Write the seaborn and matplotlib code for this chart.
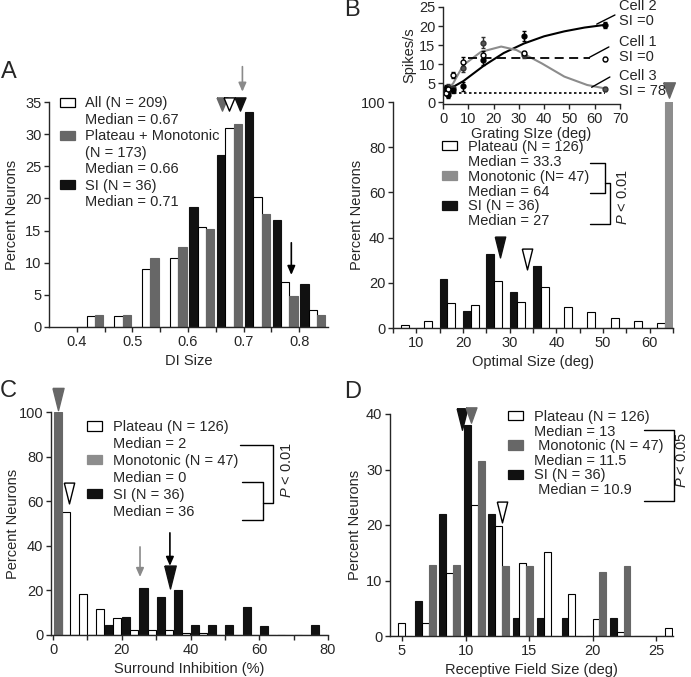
import pandas as pd
import seaborn as sns
import matplotlib.pyplot as plt
from matplotlib.patches import Patch

# ---------------- data ----------------
# Panel A: DI size distribution (percent of neurons per bin)
a_bins = [0.425, 0.475, 0.525, 0.575, 0.625, 0.675, 0.725, 0.775, 0.825]
a_si = [0, 0, 0, 0, 18.6, 26.7, 33.4, 16.7, 6.7]
a_all = [1.7, 1.7, 9.1, 10.7, 15.5, 31.0, 20.3, 7.0, 2.7]
a_pm = [1.9, 1.9, 10.8, 12.5, 15.2, 31.6, 17.6, 4.8, 1.9]
a_median_marks = [0.661, 0.673, 0.694]  # gray, white, black triangles

# Panel B: optimal size
b_bins = [7.5, 12.5, 17.5, 22.5, 27.5, 32.5, 37.5, 42.5, 47.5, 52.5, 57.5, 62.5]
b_si = [0, 0, 21.7, 7.7, 32.7, 15.8, 27.3, 0, 0, 0, 0, 0]
b_plateau = [1.2, 3.2, 10.9, 10.2, 20.6, 11.4, 18.0, 9.1, 7.2, 4.6, 3.1, 2.1]
b_mono = [0, 0, 0, 0, 0, 0, 0, 0, 0, 0, 0, 100]
b_median_marks = [28.0, 33.7, 64.1]  # SI, plateau, monotonic

# Panel B inset: example size tuning curves
grating = [1, 2, 4, 8, 16, 32, 64]
cell1_resp = [2.5, 3.4, 7.1, 10.6, 12.4, 12.9, 11.3]
cell2_resp = [3.8, 1.8, 3.3, 4.2, 11.1, 17.4, 20.3]
cell3_resp = [2.8, 4.0, 3.6, 8.9, 15.6, 12.3, 3.4]
cell1_err = [0.6, 0.6, 0.8, 1.2, 1.0, 0.6, 0.5]
cell2_err = [0.8, 0.8, 0.8, 1.2, 1.3, 1.4, 0.8]
cell3_err = [0.7, 0.7, 0.7, 1.0, 1.5, 0.8, 0.6]
cell2_fit_x = [1, 4, 8, 16, 24, 32, 40, 48, 56, 64]
cell2_fit_y = [2.5, 4.0, 5.5, 9.5, 12.9, 15.4, 17.3, 18.6, 19.6, 20.3]
cell3_fit_x = [1, 2, 4, 8, 15, 23, 29, 39, 48, 57, 64]
cell3_fit_y = [3.0, 3.5, 4.9, 9.7, 13.2, 14.6, 13.7, 10.2, 6.7, 4.5, 3.6]
cell1_fit_x = [10, 58]
cell1_fit_y = [11.7, 11.7]
baseline_x = [0.5, 64]
baseline_y = [2.5, 2.5]

# Panel C: surround inhibition
c_bins = [2.5, 7.5, 12.5, 17.5, 22.5, 27.5, 32.5, 37.5, 42.5, 47.5, 52.5, 57.5, 62.5, 67.5, 72.5, 77.5]
c_si = [0, 0, 0, 4.5, 7.9, 20.9, 16.9, 20.2, 4.5, 4.5, 4.5, 12.7, 4.1, 0, 0, 4.5]
c_plateau = [55.0, 18.4, 11.5, 7.5, 2.2, 2.2, 2.2, 0.8, 0.8, 0, 0, 0, 0, 0, 0, 0]
c_mono = [100, 0, 0, 0, 0, 0, 0, 0, 0, 0, 0, 0, 0, 0, 0, 0]

# Panel D: receptive field size
d_bins = [4.95, 6.85, 8.75, 10.7, 12.6, 14.5, 16.45, 18.35, 20.25, 22.15, 24.05, 25.95]
d_si = [0, 6.3, 22.0, 38.0, 22.0, 3.2, 3.2, 3.2, 0, 3.2, 0, 0]
d_plateau = [2.3, 2.3, 11.4, 23.6, 19.9, 13.1, 15.2, 7.6, 3.0, 0.8, 0, 1.4]
d_mono = [0, 12.8, 12.8, 31.6, 12.6, 12.6, 0, 0, 11.5, 12.6, 0, 0]
d_median_marks = [9.7, 10.45, 12.85]  # SI, monotonic, plateau

BLACK = "#111111"
WHITE = "white"
GRAY = "#676767"
LIGHT = "#8d8d8d"

sns.set_theme(style="ticks")
plt.rcParams["font.family"] = ["Liberation Sans", "DejaVu Sans"]
plt.rcParams.update({
    "font.size": 10.5,
    "axes.linewidth": 1.0,
    "xtick.major.size": 3.5,
    "ytick.major.size": 3.5,
    "xtick.minor.size": 3.5,
    "xtick.major.width": 1.0,
    "ytick.major.width": 1.0,
    "xtick.minor.width": 1.0,
    "xtick.labelsize": 10.5,
    "ytick.labelsize": 10.5,
    "axes.labelsize": 10.5,
    "mathtext.fontset": "custom",
    "mathtext.it": "Liberation Sans:italic",
    "mathtext.rm": "Liberation Sans",
})

W, H = 691, 677
fig = plt.figure(figsize=(W / 100, H / 100), dpi=100)


def px_axes(left, top, right, bottom):
    return fig.add_axes([left / W, 1 - bottom / H, (right - left) / W, (bottom - top) / H])


def long_df(bins, series):
    frames = [pd.DataFrame({"bin": bins, "pct": vals, "group": name}) for name, vals in series.items()]
    return pd.concat(frames, ignore_index=True)


def draw_bars(ax, bins, series, order, colors, width):
    start = len(ax.containers)
    sns.barplot(data=long_df(bins, series), x="bin", y="pct", hue="group",
                hue_order=order, palette=colors, native_scale=True, width=width,
                dodge=True, edgecolor="black", linewidth=0.8, errorbar=None,
                legend=False, ax=ax)
    for cont, name in zip(ax.containers[start:], [g for g in order if g in series]):
        if colors[name] != WHITE:
            for bar in cont:
                bar.set_edgecolor(colors[name])


def add_legend(ax, entries, anchor, spacing):
    handles, labels = [], []
    for color, text in entries:
        if color is None:
            handles.append(Patch(facecolor="none", edgecolor="none"))
        else:
            handles.append(Patch(facecolor=color, edgecolor="black" if color == WHITE else color, linewidth=0.9))
        labels.append(text)
    ax.legend(handles, labels, loc="upper left", bbox_to_anchor=anchor, frameon=False,
              borderpad=0, borderaxespad=0, handlelength=1.05, handleheight=0.6,
              handletextpad=0.7, labelspacing=spacing, fontsize=10.5)


def triangle(ax, x, y, color, size, tall=2.0, edge=None):
    verts = [(-1, tall), (1, tall), (0, -tall), (-1, tall)]
    ax.plot([x], [y], linestyle="none", marker=verts, ms=size, mfc=color,
            mec=edge or color, mew=1.0, clip_on=False, zorder=5)


def arrow(ax, x, y_tail, y_head, color):
    ax.annotate("", xy=(x, y_head), xytext=(x, y_tail), annotation_clip=False,
                arrowprops=dict(arrowstyle="-|>,head_length=0.5,head_width=0.22",
                                color=color, lw=1.2, shrinkA=0, shrinkB=0))


def bracket(ax, xs, ys):
    ax.plot(xs, ys, color="black", lw=1.0, clip_on=False)


def style_axes(ax):
    sns.despine(ax=ax)
    ax.tick_params(direction="out", pad=2)
    ax.grid(False)


# ---------------- Panel A ----------------
axA = px_axes(49, 102, 328, 327)
draw_bars(axA, a_bins, {"SI": a_si, "All": a_all, "PM": a_pm}, ["SI", "All", "PM"],
          {"SI": BLACK, "All": WHITE, "PM": GRAY}, 0.9)
axA.set_xlim(0.35, 0.852)
axA.set_ylim(0, 35)
axA.set_xticks([0.4, 0.5, 0.6, 0.7, 0.8])
axA.set_xticks([0.45, 0.55, 0.65, 0.75], minor=True)
axA.set_yticks(range(0, 36, 5))
axA.set_xlabel("DI Size")
axA.set_ylabel("Percent Neurons")
axA.yaxis.set_label_coords(-0.108, 0.5)
style_axes(axA)
add_legend(axA, [(WHITE, "All (N = 209)"), (None, "Median = 0.67"),
                 (GRAY, "Plateau + Monotonic"), (None, "(N = 173)"), (None, "Median = 0.66"),
                 (BLACK, "SI (N = 36)"), (None, "Median = 0.71")], (0.039, 1.025), 0.17)
for x, c, e in zip(a_median_marks, [GRAY, WHITE, BLACK], [GRAY, "black", BLACK]):
    triangle(axA, x, 34.75, c, 9.5, tall=1.2, edge=e)
arrow(axA, 0.698, 40.5, 36.6, "#8a8a8a")
arrow(axA, 0.786, 13.1, 8.1, "black")

# ---------------- Panel B ----------------
axB = px_axes(393, 102, 673, 328)
draw_bars(axB, b_bins, {"SI": b_si, "Plateau": b_plateau, "Monotonic": b_mono},
          ["SI", "Plateau", "Monotonic"], {"SI": BLACK, "Plateau": WHITE, "Monotonic": LIGHT}, 1.0)
axB.set_xlim(5, 65)
axB.set_ylim(0, 100)
axB.set_xticks([10, 20, 30, 40, 50, 60])
axB.set_xticks([5, 15, 25, 35, 45, 55, 65], minor=True)
axB.set_yticks(range(0, 101, 20))
axB.set_xlabel("Optimal Size (deg)")
axB.set_ylabel("Percent Neurons")
axB.yaxis.set_label_coords(-0.104, 0.5)
style_axes(axB)
add_legend(axB, [(WHITE, "Plateau (N = 126)"), (None, "Median = 33.3"),
                 (LIGHT, "Monotonic (N= 47)"), (None, "Median = 64"),
                 (BLACK, "SI (N = 36)"), (None, "Median = 27")], (0.175, 0.832), 0.06)
triangle(axB, b_median_marks[0], 35.7, BLACK, 15)
triangle(axB, b_median_marks[1], 30.5, WHITE, 15, edge="black")
triangle(axB, b_median_marks[2], 105.5, GRAY, 11, tall=1.3)
bracket(axB, [47.2, 50.4, 50.4, 47.2], [73, 73, 59.7, 59.7])
bracket(axB, [50.4, 51.5, 51.5, 47.2], [64.2, 64.2, 46, 46])
axB.text(54.3, 58, r"$P$ < 0.01", rotation=90, ha="center", va="center")

# inset tuning curves
axI = px_axes(443, 7, 620, 104)
sns.lineplot(x=cell2_fit_x, y=cell2_fit_y, color="black", lw=1.5, ax=axI)
sns.lineplot(x=cell3_fit_x, y=cell3_fit_y, color="#8c8c8c", lw=1.5, ax=axI)
axI.plot(cell1_fit_x, cell1_fit_y, color="black", lw=1.3, dashes=(5, 3))
axI.plot(baseline_x, baseline_y, color="black", lw=1.2, dashes=(1.5, 1.5))
axI.errorbar(grating, cell3_resp, yerr=cell3_err, fmt="o", ms=3.5, color="#333333",
             mfc="#555555", mew=1, capsize=1.5, elinewidth=1)
axI.errorbar(grating, cell2_resp, yerr=cell2_err, fmt="o", ms=3.5, color="black",
             mfc="black", capsize=1.5, elinewidth=1)
axI.errorbar(grating, cell1_resp, yerr=cell1_err, fmt="o", ms=3.5, color="black",
             mfc="white", mew=1, capsize=1.5, elinewidth=1)
axI.set_xlim(0, 70)
axI.set_ylim(-0.5, 25)
axI.set_xticks(range(0, 71, 10))
axI.set_yticks(range(0, 26, 5))
axI.set_xlabel("Grating SIze (deg)", labelpad=1)
axI.set_ylabel("Spikes/s", labelpad=2)
axI.patch.set_alpha(0)
style_axes(axI)
for (x0, y0, x1, y1), top, bottom, ty in [((60.8, 20.5, 68, 22.9), "Cell 2", "SI =0", 23.3),
                                         ((58, 11.8, 65.6, 14.5), "Cell 1", "SI =0", 13.8),
                                         ((58.8, 3.9, 66, 6.6), "Cell 3", "SI = 78", 4.9)]:
    axI.plot([x0, x1], [y0, y1], color="black", lw=1.0, clip_on=False)
    axI.text(69.5, ty + 1.9, top, ha="left", va="center", clip_on=False)
    axI.text(69.5, ty - 1.9, bottom, ha="left", va="center", clip_on=False)

# ---------------- Panel C ----------------
axC = px_axes(51, 412, 328, 635)
draw_bars(axC, c_bins, {"SI": c_si, "Plateau": c_plateau}, ["SI", "Plateau"],
          {"SI": BLACK, "Plateau": WHITE}, 0.94)
draw_bars(axC, c_bins, {"Monotonic": c_mono}, ["Monotonic", "Plateau"],
          {"Monotonic": GRAY, "Plateau": WHITE}, 0.94)
axC.set_xlim(-0.6, 80)
axC.set_ylim(0, 100)
axC.set_xticks([0, 20, 40, 60, 80])
axC.set_xticks([10, 30, 50, 70], minor=True)
axC.set_yticks(range(0, 101, 20))
axC.set_xlabel("Surround Inhibition (%)")
axC.set_ylabel("Percent Neurons")
axC.yaxis.set_label_coords(-0.112, 0.5)
style_axes(axC)
add_legend(axC, [(WHITE, "Plateau (N = 126)"), (None, "Median = 2"),
                 (LIGHT, "Monotonic (N = 47)"), (None, "Median = 0"),
                 (BLACK, "SI (N = 36)"), (None, "Median = 36")], (0.13, 0.964), 0.2)
triangle(axC, 1.5, 106, GRAY, 16)
triangle(axC, 4.7, 63.5, WHITE, 15, edge="black")
arrow(axC, 25.3, 39.5, 26, "#8a8a8a")
arrow(axC, 34.0, 45.8, 31, "black")
triangle(axC, 34.0, 26.2, BLACK, 16.5)
bracket(axC, [54.4, 64, 64, 61], [85.2, 85.2, 59.2, 59.2])
bracket(axC, [55, 61, 61, 55], [68.6, 68.6, 51.6, 51.6])
axC.text(68, 74, r"$P$ < 0.01", rotation=90, ha="center", va="center")

# ---------------- Panel D ----------------
axD = px_axes(390, 414, 673, 636)
draw_bars(axD, d_bins, {"SI": d_si, "Plateau": d_plateau, "Monotonic": d_mono},
          ["SI", "Plateau", "Monotonic"], {"SI": BLACK, "Plateau": WHITE, "Monotonic": GRAY}, 0.85)
axD.set_xlim(4.06, 26.3)
axD.set_ylim(0, 40)
axD.set_xticks([5, 10, 15, 20, 25])
axD.set_yticks(range(0, 41, 10))
axD.set_xlabel("Receptive Field Size (deg)")
axD.set_ylabel("Percent Neurons")
axD.yaxis.set_label_coords(-0.099, 0.5)
style_axes(axD)
add_legend(axD, [(WHITE, "Plateau (N = 126)"), (None, "Median = 13"),
                 (GRAY, " Monotonic (N = 47)"), (None, "Median = 11.5"),
                 (BLACK, "SI (N = 36)"), (None, " Median = 10.9")], (0.417, 1.018), 0.04)
triangle(axD, d_median_marks[0], 39.1, BLACK, 15.5)
triangle(axD, d_median_marks[1], 39.9, GRAY, 11, tall=1.4)
triangle(axD, d_median_marks[2], 22.4, WHITE, 15, edge="black")
bracket(axD, [24.0, 26.4, 26.4, 24.0], [37.1, 37.1, 24.3, 24.3])
axD.text(27.0, 31.7, r"$P$ < 0.05", rotation=90, ha="center", va="center")

# panel letters
for letter, (x, y) in {"A": (9, 72), "B": (352, 10), "C": (8, 391), "D": (353, 392)}.items():
    fig.text(x / W, 1 - y / H, letter, fontsize=17, ha="center", va="center")

fig.savefig("out.png", dpi=100)
